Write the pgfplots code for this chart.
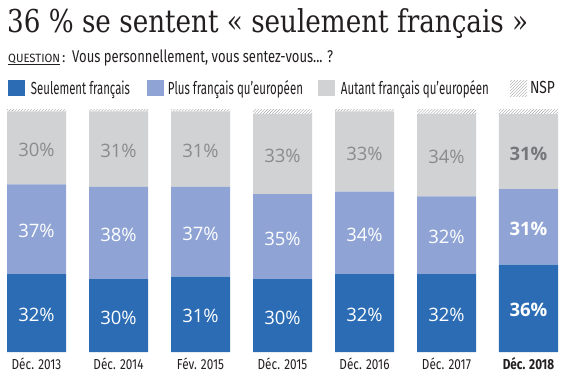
\documentclass[border=0pt]{standalone}
\usepackage{fontspec}
\setmainfont{Fira Sans}
\newfontfamily\titlefont{DejaVu Serif}
\newfontfamily\lab{Open Sans}
\usepackage{graphicx}
\usepackage{pgfplots}
\pgfplotsset{compat=1.18}
\usepackage{pgfplotstable}
\usetikzlibrary{patterns}

\definecolor{dblue}{HTML}{2B6CB5}
\definecolor{lblue}{HTML}{8FA4D5}
\definecolor{lgray}{HTML}{D1D2D4}
\definecolor{labgray}{HTML}{8A8B8D}
\definecolor{labgraydark}{HTML}{76777A}
\definecolor{txt}{HTML}{231F20}
\definecolor{hatch}{HTML}{A7A8AA}

\pgfplotstableread{
x seul plus autant nsp
0 32 37 30 1
1 30 38 31 1
2 31 37 31 1
3 30 35 33 2
4 32 34 33 1
5 32 32 34 2
6 36 31 31 2
}\data

\newcommand{\cx}[1]{\scalebox{0.81}[1]{#1}}
\newcommand{\fitw}[2]{\resizebox{#1}{\height}{#2}}

\pgfplotsset{
  midlabel/.style n args={3}{
    visualization depends on={\thisrow{x} \as \rawx},
    visualization depends on={\thisrow{#1} \as \rawy},
    nodes near coords={\ifdim\rawx pt>5.5pt \bfseries\color{#3}\fi\pgfmathprintnumber[fixed, precision=0, assume math mode=true]{\rawy}\%},
    every node near coord/.append style={anchor=center, text=#2,
      font=\lab\fontsize{18.5bp}{20bp}\selectfont, yshift=-2bp},
  },
}

\begin{document}
\begin{tikzpicture}
\useasboundingbox (0,0) rectangle (568bp,-383bp);
\node[anchor=base west, inner sep=0pt, text=txt] at (7bp,-33bp)
  {\fitw{521bp}{\titlefont\fontsize{31.5bp}{34bp}\selectfont 36 \% se sentent « seulement français »}};
\node[anchor=base west, inner sep=0pt, text=txt] at (8bp,-62bp)
  {\fitw{52bp}{\fontsize{12bp}{14bp}\selectfont\underline{QUESTION}}};
\node[anchor=base west, inner sep=0pt, text=txt] at (62bp,-62bp)
  {\fontsize{14bp}{16bp}\selectfont :};
\node[anchor=base west, inner sep=0pt, text=txt] at (72bp,-62bp)
  {\fitw{261bp}{\fontsize{17bp}{19bp}\selectfont Vous personnellement, vous sentez-vous... ?}};

\begin{axis}[
  at={(7bp,-352bp)}, anchor=south west,
  scale only axis, width=550bp, height=243bp,
  xmin=-0.3598, xmax=6.3476, ymin=0, ymax=100,
  ybar stacked, bar width=59bp,
  axis line style={draw=none}, major tick length=0pt,
  ytick=\empty, xtick={0,...,6},
  xticklabels={\cx{Déc. 2013},\cx{Déc. 2014},\cx{Fév. 2015},\cx{Déc. 2015},\cx{Déc. 2016},\cx{Déc. 2017},\cx{\bfseries Déc. 2018}},
  xticklabel style={anchor=base, yshift=-17bp, inner sep=0pt, text=txt, font=\fontsize{14.5bp}{16bp}\selectfont},
  clip=false,
  legend columns=4,
  legend cell align=left,
  legend image code/.code={\fill[#1] (0bp,-8bp) rectangle (17bp,8bp);},
  legend style={at={(0.0018,1.0864)}, anchor=west, draw=none, fill=none,
     inner sep=0pt, outer sep=0pt,
     font=\fontsize{17.5bp}{19bp}\selectfont, text=txt,
     nodes={inner sep=0pt},
     /tikz/column 1/.style={column sep=6bp},
     /tikz/column 2/.style={column sep=17bp},
     /tikz/column 3/.style={column sep=4bp},
     /tikz/column 4/.style={column sep=15bp},
     /tikz/column 5/.style={column sep=6bp},
     /tikz/column 6/.style={column sep=21bp},
     /tikz/column 7/.style={column sep=3bp}},
]
\addplot[fill=dblue, draw=none, midlabel={seul}{white}{white}] table[x=x, y=seul] {\data};
\addlegendentry{\fitw{99bp}{Seulement français}}
\addplot[fill=lblue, draw=none, midlabel={plus}{white}{white}] table[x=x, y=plus] {\data};
\addlegendentry{\fitw{135bp}{Plus français qu'européen}}
\addplot[fill=lgray, draw=none, midlabel={autant}{labgray}{labgraydark}] table[x=x, y=autant] {\data};
\addlegendentry{\fitw{148bp}{Autant français qu'européen}}
\addplot[pattern=north east lines, pattern color=hatch, draw=none] table[x=x, y=nsp] {\data};
\addlegendentry{\fitw{25bp}{NSP}}
\end{axis}
\end{tikzpicture}
\end{document}
